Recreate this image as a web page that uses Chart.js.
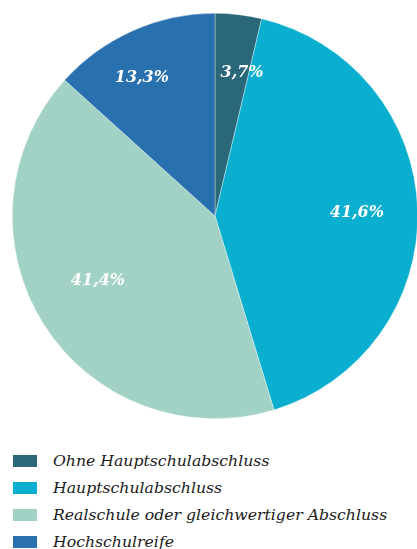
<!DOCTYPE html>
<html><head><meta charset="utf-8">
<script src="https://cdn.jsdelivr.net/npm/chart.js@4/dist/chart.umd.min.js"></script>
<style>
html,body{margin:0;padding:0;background:#fff;overflow:hidden;width:417px;height:549px;}
#wrap{position:absolute;left:0;top:0;width:420px;height:432px;}
#legend{position:absolute;left:13px;top:447px;font-family:"DejaVu Serif",serif;font-style:italic;font-size:15.7px;color:#1a1a1a;}
.item{display:flex;align-items:center;height:27px;}
.box{width:24px;height:12px;margin-right:16px;}
</style></head><body>
<div id="wrap"><canvas id="c" width="420" height="432"></canvas></div>
<div id="legend"></div>
<script>
const categories = ["Ohne Hauptschulabschluss","Hauptschulabschluss","Realschule oder gleichwertiger Abschluss","Hochschulreife"];
const values = [3.7, 41.6, 41.4, 13.3];
const valueLabels = ["3,7%","41,6%","41,4%","13,3%"];
const colors = ["#2a6779","#0aafcf","#a2d2c5","#2970ae"];

const labelPlugin = {
  id:'sliceLabels',
  afterDatasetsDraw(chart, args, opts){
    const ctx = chart.ctx;
    const meta = chart.getDatasetMeta(0);
    ctx.save();
    ctx.font = 'italic bold 16px "DejaVu Serif", serif';
    ctx.fillStyle = '#fff';
    ctx.textAlign = 'center';
    ctx.textBaseline = 'middle';
    meta.data.forEach((arc,i)=>{
      const p = arc.getProps(['x','y','startAngle','endAngle','outerRadius'],true);
      const mid = (p.startAngle+p.endAngle)/2 + (opts.angleShift[i]||0);
      const r = p.outerRadius*opts.radius[i];
      ctx.fillText(valueLabels[i], p.x+Math.cos(mid)*r, p.y+Math.sin(mid)*r);
    });
    ctx.restore();
  }
};

new Chart(document.getElementById('c'),{
  type:'pie',
  data:{labels:categories,datasets:[{data:values,backgroundColor:colors,borderColor:'rgba(255,255,255,0.6)',borderWidth:0.6}]},
  options:{
    responsive:false,animation:false,
    layout:{padding:{left:12,right:2,top:13,bottom:13}},
    plugins:{legend:{display:false},tooltip:{enabled:false},
      sliceLabels:{radius:[0.72,0.70,0.66,0.77],angleShift:[0.07,0.01,0.06,-0.07]}}
  },
  plugins:[labelPlugin]
});

const lg = document.getElementById('legend');
categories.forEach((c,i)=>{
  const d=document.createElement('div');d.className='item';
  const b=document.createElement('span');b.className='box';b.style.background=colors[i];
  const t=document.createElement('span');t.textContent=c;
  d.appendChild(b);d.appendChild(t);lg.appendChild(d);
});
</script>
</body></html>
